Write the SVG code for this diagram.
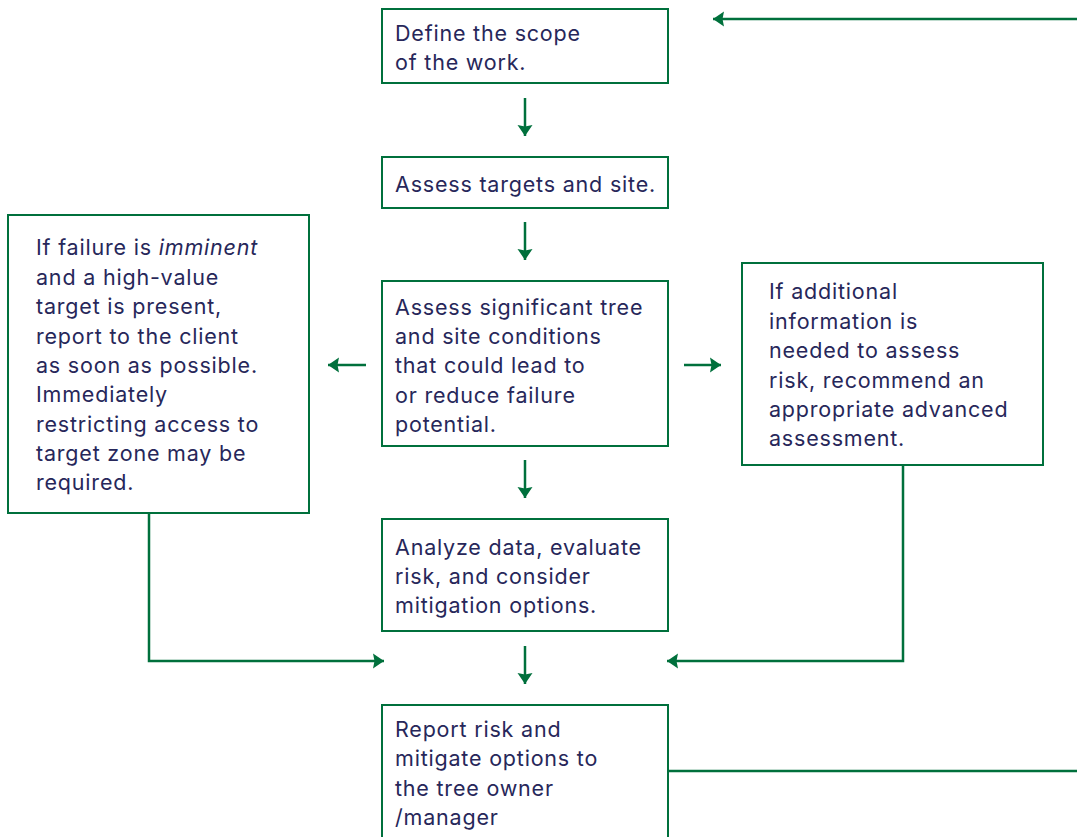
<svg xmlns="http://www.w3.org/2000/svg" width="1077" height="837" viewBox="0 0 1077 837">
<style>
.box{fill:#fff;stroke:#00703c;stroke-width:2}
.t{font-family:Inter,"Noto Sans","Liberation Sans",sans-serif;font-size:21.5px;letter-spacing:0.8px;fill:#27275a}
.c{fill:none;stroke:#00703c;stroke-width:2.5}
</style>
<defs>
<marker id="ah" markerUnits="userSpaceOnUse" markerWidth="16" markerHeight="16" refX="11" refY="8" orient="auto">
<path d="M0,0.5 L11,8 L0,15.5 L1.5,8 Z" fill="#00703c"/>
</marker>
</defs>
<rect width="1077" height="837" fill="#fff"/>
<g id="connectors">
<line class="c" x1="1077" y1="19" x2="713" y2="19" marker-end="url(#ah)"/>
<line class="c" x1="525" y1="98" x2="525" y2="136" marker-end="url(#ah)"/>
<line class="c" x1="525" y1="222" x2="525" y2="260" marker-end="url(#ah)"/>
<line class="c" x1="366" y1="365" x2="328" y2="365" marker-end="url(#ah)"/>
<line class="c" x1="684" y1="365" x2="721" y2="365" marker-end="url(#ah)"/>
<line class="c" x1="525" y1="460" x2="525" y2="498" marker-end="url(#ah)"/>
<line class="c" x1="525" y1="646" x2="525" y2="684" marker-end="url(#ah)"/>
<polyline class="c" points="149,513 149,661 384,661" marker-end="url(#ah)"/>
<polyline class="c" points="903,465 903,661 667,661" marker-end="url(#ah)"/>
<line class="c" x1="668" y1="771" x2="1077" y2="771"/>
</g>
<g id="n1">
<rect class="box" x="382" y="9" width="286" height="74"/>
<text class="t" x="395" y="41">Define the scope</text>
<text class="t" x="395" y="70">of the work.</text>
</g>
<g id="n2">
<rect class="box" x="382" y="157" width="286" height="51"/>
<text class="t" x="395" y="192">Assess targets and site.</text>
</g>
<g id="n3">
<rect class="box" x="8" y="215" width="301" height="298"/>
<text class="t" x="36" y="255">If failure is <tspan font-style="italic">imminent</tspan></text>
<text class="t" x="36" y="285">and a high-value</text>
<text class="t" x="36" y="314">target is present,</text>
<text class="t" x="36" y="344">report to the client</text>
<text class="t" x="36" y="373">as soon as possible.</text>
<text class="t" x="36" y="402">Immediately</text>
<text class="t" x="36" y="432">restricting access to</text>
<text class="t" x="36" y="461">target zone may be</text>
<text class="t" x="36" y="490">required.</text>
</g>
<g id="n4">
<rect class="box" x="382" y="281" width="286" height="165"/>
<text class="t" x="395" y="315">Assess significant tree</text>
<text class="t" x="395" y="344">and site conditions</text>
<text class="t" x="395" y="373">that could lead to</text>
<text class="t" x="395" y="403">or reduce failure</text>
<text class="t" x="395" y="432">potential.</text>
</g>
<g id="n5">
<rect class="box" x="742" y="263" width="301" height="202"/>
<text class="t" x="769" y="299">If additional</text>
<text class="t" x="769" y="329">information is</text>
<text class="t" x="769" y="358">needed to assess</text>
<text class="t" x="769" y="388">risk, recommend an</text>
<text class="t" x="769" y="417">appropriate advanced</text>
<text class="t" x="769" y="446">assessment.</text>
</g>
<g id="n6">
<rect class="box" x="382" y="519" width="286" height="112"/>
<text class="t" x="395" y="555">Analyze data, evaluate</text>
<text class="t" x="395" y="584">risk, and consider</text>
<text class="t" x="395" y="613">mitigation options.</text>
</g>
<g id="n7">
<rect class="box" x="382" y="705" width="286" height="140"/>
<text class="t" x="395" y="737">Report risk and</text>
<text class="t" x="395" y="766">mitigate options to</text>
<text class="t" x="395" y="796">the tree owner</text>
<text class="t" x="395" y="825">/manager</text>
</g>
</svg>
